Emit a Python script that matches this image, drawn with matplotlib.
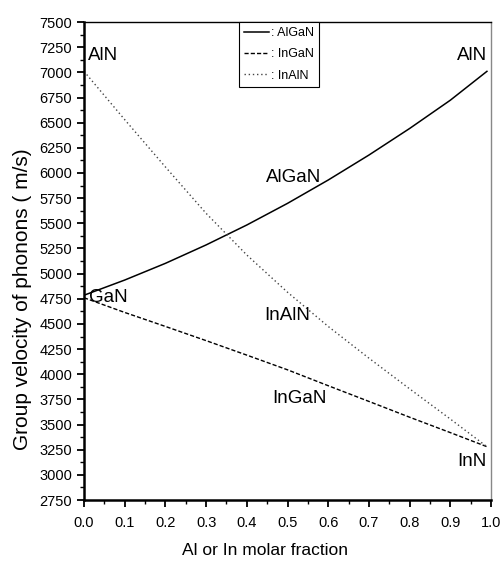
import matplotlib
matplotlib.use("Agg")
import matplotlib.pyplot as plt
from matplotlib.ticker import MultipleLocator

plt.rcParams['font.family'] = ['Liberation Sans', 'DejaVu Sans']

# Data
fraction = [0.0, 0.1, 0.2, 0.3, 0.4, 0.5, 0.6, 0.7, 0.8, 0.9, 0.99]
algan = [4785, 4936, 5102, 5285, 5483, 5698, 5930, 6178, 6442, 6723, 7010]
ingan = [4760, 4614, 4475, 4334, 4190, 4044, 3886, 3730, 3573, 3420, 3280]
inaln = [7010, 6530, 6060, 5599, 5185, 4815, 4475, 4160, 3855, 3555, 3280]

series_labels = [": AlGaN", ": InGaN", ": InAlN"]
x_ticks = [0.0, 0.1, 0.2, 0.3, 0.4, 0.5, 0.6, 0.7, 0.8, 0.9, 1.0]
y_ticks = list(range(2750, 7501, 250))

annotations = [
    ("AlN", 0.01, 7165, 'left'),
    ("AlN", 0.99, 7170, 'right'),
    ("GaN", 0.012, 4758, 'left'),
    ("AlGaN", 0.516, 5960, 'center'),
    ("InAlN", 0.50, 4579, 'center'),
    ("InGaN", 0.529, 3754, 'center'),
    ("InN", 0.99, 3131, 'right'),
]

fig = plt.figure(figsize=(5.0, 5.65), dpi=100)
ax = fig.add_axes([0.168, 0.115, 0.814, 0.846])

ax.plot(fraction, algan, color='black', lw=1.1, ls='-', label=series_labels[0])
ax.plot(fraction, ingan, color='black', lw=1.0, ls=(0, (3, 1.5)), label=series_labels[1])
ax.plot(fraction, inaln, color='#444444', lw=1.0, ls=(0, (1, 2)), label=series_labels[2])

for txt, x, y, ha in annotations:
    ax.text(x, y, txt, ha=ha, va='center', fontsize=13.5, color='black')

ax.set_xlim(0.0, 1.0)
ax.set_ylim(2750, 7500)
ax.set_xticks(x_ticks)
ax.set_xticklabels([f"{v:.1f}" for v in x_ticks])
ax.set_yticks(y_ticks)
ax.set_yticklabels([str(v) for v in y_ticks])
ax.xaxis.set_minor_locator(MultipleLocator(0.05))
ax.yaxis.set_minor_locator(MultipleLocator(125))
ax.tick_params(which='major', direction='out', length=5, width=1.3, labelsize=10.5)
ax.tick_params(axis='x', which='major', pad=6.5)
ax.tick_params(axis='y', which='major', pad=3.5)
ax.tick_params(which='minor', direction='out', length=3, width=1.0)
ax.tick_params(top=False, right=False, which='both')

ax.spines['left'].set_linewidth(1.8)
ax.spines['bottom'].set_linewidth(1.8)
ax.spines['top'].set_linewidth(1.0)
ax.spines['right'].set_linewidth(1.0)
ax.spines['right'].set_color('#888888')

ax.set_xlabel("Al or In molar fraction", fontsize=12.5)
ax.xaxis.set_label_coords(0.445, -0.09)
ax.set_ylabel("Group velocity of phonons ( m/s)", fontsize=15)
ax.yaxis.set_label_coords(-0.128, 0.42)

leg = ax.legend(loc='upper left', bbox_to_anchor=(0.38, 1.0), fontsize=9,
                frameon=True, fancybox=False, edgecolor='black', framealpha=1,
                handlelength=2.0, handletextpad=0.2, borderpad=0.4,
                labelspacing=0.75, borderaxespad=0.0)
leg.get_frame().set_linewidth(0.8)

fig.savefig("out.png", dpi=100)
